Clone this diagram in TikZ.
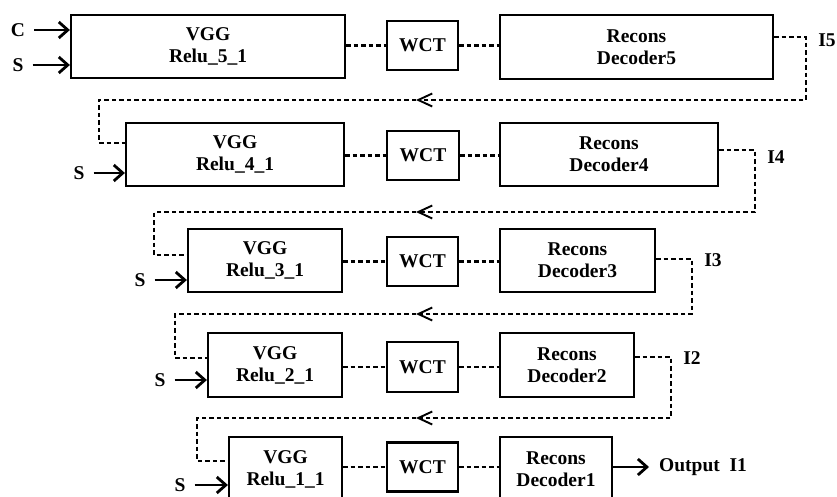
\documentclass[tikz,border=0pt]{standalone}
\usepackage{fontspec}
\setmainfont{Liberation Serif}
\usetikzlibrary{arrows.meta}

\tikzset{
  blk/.style={draw, line width=2.2pt, align=center, inner sep=0pt},
  lbl/.style={inner sep=0pt},
  link/.style={line width=2.2pt, dash pattern=on 4.5pt off 3pt},
  fb/.style={link},
  fbtip/.tip={Straight Barb[length=14pt, width=13pt, line width=1.9pt]},
  inarr/.style={line width=2.8pt,
      -{Straight Barb[length=9pt, width=16pt, line width=2.8pt]}}
}

\begin{document}
\begin{tikzpicture}[x=1pt, y=-1pt,
      every node/.style={font=\bfseries\fontsize{19.5}{22}\selectfont}]
    \useasboundingbox (0,0) rectangle (837,497);

    % row 5
    \node[blk, minimum width=274pt, minimum height=63pt] (vgg5) at (208,46.5) {VGG\\Relu\_5\_1};
    \node[blk, minimum width=71pt, minimum height=49pt] (wct5) at (422.5,45.5) {WCT};
    \node[blk, minimum width=273pt, minimum height=64pt] (rec5) at (636.5,47) {Recons\\Decoder5};
    \node[lbl] (c5) at (18,30) {C};
    \node[lbl] (s5) at (18,65) {S};
    \node[lbl] (i5) at (827,40) {I5};
    \draw[inarr] ([xshift=9pt]c5.east) -- (c5 -| vgg5.west);
    \draw[inarr] ([xshift=9pt]s5.east) -- (s5 -| vgg5.west);
    \draw[link] (wct5.west -| vgg5.east) -- (wct5.west) (wct5.east) -- (wct5.east -| rec5.west);

    % row 4
    \node[blk, minimum width=218pt, minimum height=63pt] (vgg4) at (235,154.5) {VGG\\Relu\_4\_1};
    \node[blk, minimum width=72pt, minimum height=49pt] (wct4) at (423,155.5) {WCT};
    \node[blk, minimum width=218pt, minimum height=63pt] (rec4) at (609,154.5) {Recons\\Decoder4};
    \node[lbl] (s4) at (79,173) {S};
    \node[lbl] (i4) at (776,157) {I4};
    \draw[inarr] ([xshift=9pt]s4.east) -- (s4 -| vgg4.west);
    \draw[link] (wct4.west -| vgg4.east) -- (wct4.west) (wct4.east) -- (wct4.east -| rec4.west);

    % row 3
    \node[blk, minimum width=154pt, minimum height=63pt] (vgg3) at (265,260.5) {VGG\\Relu\_3\_1};
    \node[blk, minimum width=71pt, minimum height=49pt] (wct3) at (422.5,261.5) {WCT};
    \node[blk, minimum width=155pt, minimum height=63pt] (rec3) at (577.5,260.5) {Recons\\Decoder3};
    \node[lbl] (s3) at (140,280) {S};
    \node[lbl] (i3) at (713,260) {I3};
    \draw[inarr] ([xshift=9pt]s3.east) -- (s3 -| vgg3.west);
    \draw[link] (wct3.west -| vgg3.east) -- (wct3.west) (wct3.east) -- (wct3.east -| rec3.west);

    % row 2
    \node[blk, minimum width=134pt, minimum height=64pt] (vgg2) at (275,365) {VGG\\Relu\_2\_1};
    \node[blk, minimum width=71pt, minimum height=50pt] (wct2) at (422.5,367) {WCT};
    \node[blk, minimum width=134pt, minimum height=64pt] (rec2) at (567,365) {Recons\\Decoder2};
    \node[lbl] (s2) at (160,380) {S};
    \node[lbl] (i2) at (692,358) {I2};
    \draw[inarr] ([xshift=9pt]s2.east) -- (s2 -| vgg2.west);
    \draw[link] (wct2.west -| vgg2.east) -- (wct2.west) (wct2.east) -- (wct2.east -| rec2.west);

    % row 1
    \node[blk, minimum width=113pt, minimum height=64pt] (vgg1) at (285.5,469) {VGG\\Relu\_1\_1};
    \node[blk, minimum width=71pt, minimum height=49pt] (wct1) at (422.5,467) {WCT};
    \node[blk, minimum width=112pt, minimum height=64pt] (rec1) at (556,469) {Recons\\Decoder1};
    \node[lbl] (s1) at (180,485) {S};
    \node[lbl, anchor=west] (out) at (659,467) {Output\enspace I1};
    \draw[inarr] ([xshift=9pt]s1.east) -- (s1 -| vgg1.west);
    \draw[link] (wct1.west -| vgg1.east) -- (wct1.west) (wct1.east) -- (wct1.east -| rec1.west);
    \draw[inarr] (rec1.east |- out.west) -- ([xshift=-10pt]out.west);

    % feedback loops
    \coordinate (r5) at (806,100); \coordinate (m5) at (416,100); \coordinate (l5) at (99,100);
    \draw[fb, -fbtip] ([yshift=10pt]rec5.east) -| (r5) -- (m5);
    \draw[fb] (m5) -- (l5) |- ([yshift=11.5pt]vgg4.west);

    \coordinate (r4) at (755,212); \coordinate (m4) at (416,212); \coordinate (l4) at (154,212);
    \draw[fb, -fbtip] ([yshift=4.5pt]rec4.east) -| (r4) -- (m4);
    \draw[fb] (m4) -- (l4) |- ([yshift=5.5pt]vgg3.west);

    \coordinate (r3) at (692,314); \coordinate (m3) at (416,314); \coordinate (l3) at (175,314);
    \draw[fb, -fbtip] ([yshift=1.5pt]rec3.east) -| (r3) -- (m3);
    \draw[fb] (m3) -- (l3) |- ([yshift=7pt]vgg2.west);

    \coordinate (r2) at (671,418); \coordinate (m2) at (416,418); \coordinate (l2) at (197,418);
    \draw[fb, -fbtip] ([yshift=8pt]rec2.east) -| (r2) -- (m2);
    \draw[fb] (m2) -- (l2) |- ([yshift=8.3pt]vgg1.west);
  \end{tikzpicture}
\end{document}
